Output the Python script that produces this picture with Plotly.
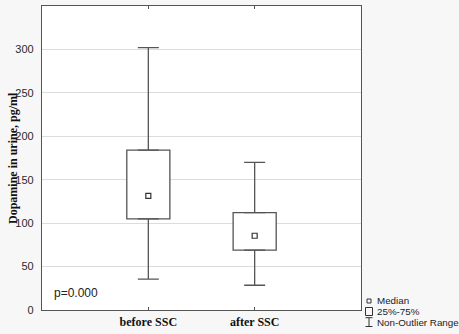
import plotly.graph_objects as go

categories = ["before SSC", "after SSC"]
q1 = [105, 69]
medians = [131.5, 85.5]
q3 = [184, 112]
lower = [35.5, 28.5]
upper = [302, 170]
p_text = "p=0.000"
y_ticks = [0, 50, 100, 150, 200, 250, 300, 350]

xpos = list(range(len(categories)))
edge = "#555555"

fig = go.Figure()

# boxes (25%-75%)
fig.add_trace(go.Bar(
    x=xpos, y=[b - a for a, b in zip(q1, q3)], base=q1, width=0.405,
    marker=dict(color="white", line=dict(color=edge, width=1.3)),
    showlegend=False, hoverinfo="skip"))

# upper whiskers
fig.add_trace(go.Scatter(
    x=xpos, y=q3, mode="markers", marker=dict(size=1, opacity=0),
    error_y=dict(type="data", symmetric=False,
                 array=[u - t for u, t in zip(upper, q3)],
                 arrayminus=[0] * len(q3), color=edge, thickness=1.3, width=10.5),
    showlegend=False, hoverinfo="skip"))

# lower whiskers
fig.add_trace(go.Scatter(
    x=xpos, y=q1, mode="markers", marker=dict(size=1, opacity=0),
    error_y=dict(type="data", symmetric=False,
                 array=[0] * len(q1),
                 arrayminus=[a - l for a, l in zip(q1, lower)], color=edge, thickness=1.3, width=10.5),
    showlegend=False, hoverinfo="skip"))

# medians
fig.add_trace(go.Scatter(
    x=xpos, y=medians, mode="markers",
    marker=dict(symbol="square-open", size=5, color="#333333", line=dict(width=1.2)),
    showlegend=False, hoverinfo="skip"))

L, R, T, B = 42, 98, 6, 24
W, H = 459, 334
pw, ph = W - L - R, H - T - B

def px(x):
    return (x - L) / pw

def py(y):
    return (H - B - y) / ph

fig.update_layout(
    width=W, height=H,
    margin=dict(l=L, r=R, t=T, b=B, autoexpand=False),
    paper_bgcolor="#f7f7f7", plot_bgcolor="white",
    showlegend=False,
    xaxis=dict(range=[-1, 2], tickvals=xpos, ticktext=categories,
               showgrid=False, zeroline=False,
               showline=True, mirror="ticks", linecolor=edge, linewidth=1.3,
               ticks="inside", ticklen=3, tickcolor=edge,
               tickfont=dict(family="Liberation Serif", size=12, color="#111111", weight="bold")),
    yaxis=dict(range=[0, 350], tickvals=y_ticks,
               showgrid=True, gridcolor="#dcdcdc", gridwidth=1, zeroline=False,
               showline=True, mirror=True, linecolor=edge, linewidth=1.3,
               ticks="", ticklabelstandoff=5,
               tickfont=dict(family="Liberation Sans", size=11, color="#2a2a2a")),
    font=dict(family="Liberation Sans"),
)

annotations = [
    dict(text="<b>Dopamine in urine, pg/ml</b>", textangle=-90, x=px(13), y=0.5,
         xref="paper", yref="paper", xanchor="center", yanchor="middle", showarrow=False,
         font=dict(family="Liberation Serif", size=12, color="#111111")),
    dict(text=p_text, x=px(52), y=py(293), xref="paper", yref="paper",
         xanchor="left", yanchor="middle", showarrow=False,
         font=dict(family="Liberation Sans", size=12, color="#222222")),
]
legend_items = [("Median", 300.5), ("25%-75%", 311.5), ("Non-Outlier Range", 322.5)]
for txt, yy in legend_items:
    annotations.append(dict(text=txt, x=px(375), y=py(yy), xref="paper", yref="paper",
                            xanchor="left", yanchor="middle", showarrow=False,
                            font=dict(family="Liberation Sans", size=9.8, color="#222222")))
fig.update_layout(annotations=annotations)

shapes = [
    dict(type="rect", xref="paper", yref="paper", x0=px(367), x1=px(371), y0=py(303), y1=py(299),
         line=dict(color="#333333", width=1)),
    dict(type="rect", xref="paper", yref="paper", x0=px(365.5), x1=px(372.5), y0=py(315.5), y1=py(307.5),
         line=dict(color="#333333", width=1)),
    dict(type="line", xref="paper", yref="paper", x0=px(365.5), x1=px(372.5), y0=py(317.7), y1=py(317.7),
         line=dict(color="#333333", width=1)),
    dict(type="line", xref="paper", yref="paper", x0=px(369), x1=px(369), y0=py(317.7), y1=py(326.5),
         line=dict(color="#333333", width=1)),
    dict(type="line", xref="paper", yref="paper", x0=px(365.5), x1=px(372.5), y0=py(326.5), y1=py(326.5),
         line=dict(color="#333333", width=1)),
]
fig.update_layout(shapes=shapes)

fig.write_html("out.html", config={"displayModeBar": False},
               post_script="document.body.style.margin='0';document.body.style.overflow='hidden';")
